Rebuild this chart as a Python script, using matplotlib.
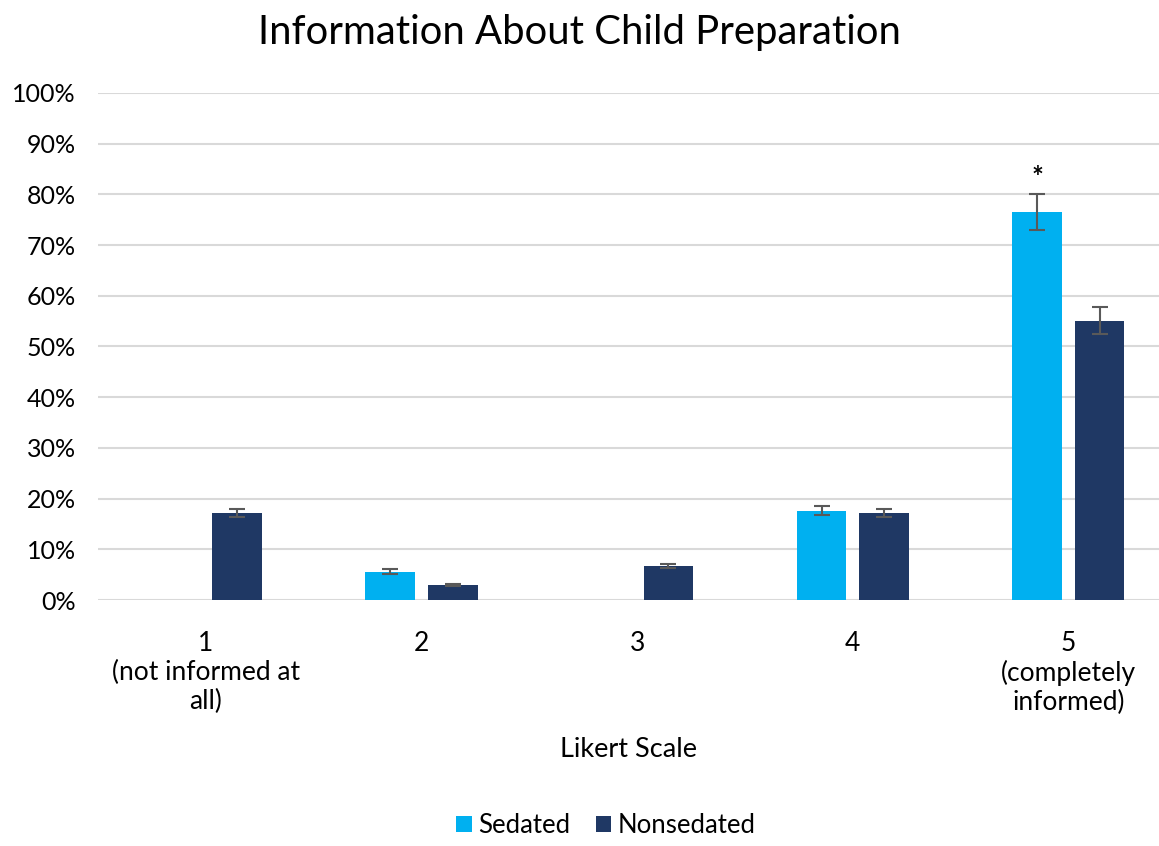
import numpy as np
import matplotlib
matplotlib.use('agg')
from matplotlib import pyplot as plt
from matplotlib.ticker import PercentFormatter

plt.rcParams['font.family'] = ['Lato', 'DejaVu Sans']

categories = ['1\n(not informed at\nall)', '2', '3', '4', '5\n(completely\ninformed)']
sedated = [0.0, 5.6, 0.0, 17.6, 76.5]
sedated_err = [0.0, 0.5, 0.0, 0.9, 3.6]
nonsedated = [17.2, 3.0, 6.7, 17.1, 55.1]
nonsedated_err = [0.8, 0.2, 0.4, 0.8, 2.7]

x = np.arange(len(categories))
w = 0.23
off = 0.145

fig = plt.figure(figsize=(11.59, 8.46), dpi=100)
ax = fig.add_axes([98 / 1159, 1 - 600 / 846, (1159 - 98) / 1159, 507 / 846])

ekw = dict(fmt='none', ecolor='#595959', elinewidth=1.5, capsize=5.5, capthick=1.5, zorder=4)
sed_bars = ax.bar(x - off, sedated, w, color='#00B0F0', label='Sedated', zorder=3)
non_bars = ax.bar(x + off, nonsedated, w, color='#1F3864', label='Nonsedated', zorder=3)

# no error bars where the bar is empty
sv = np.array(sedated)
se = np.array(sedated_err)
m = sv > 0
ax.errorbar((x - off)[m], sv[m], yerr=se[m], **ekw)
ax.errorbar(x + off, nonsedated, yerr=nonsedated_err, **ekw)

# significance marker on the sedated bar at "5"
ax.annotate('*', (x[4] - off, sedated[4] + sedated_err[4]), xytext=(0, 2),
            textcoords='offset points', ha='center', va='bottom', fontsize=20,
            fontweight='bold')

ax.set_xlim(-0.5, 4.42)
ax.set_ylim(0, 100)
ax.set_yticks(np.arange(0, 101, 10))
ax.yaxis.set_major_formatter(PercentFormatter(decimals=0))
ax.set_xticks(x)
ax.set_xticklabels(categories, fontsize=19, linespacing=1.2)
ax.tick_params(axis='y', labelsize=18, length=0, pad=16)
ax.tick_params(axis='x', length=0, pad=22)
ax.grid(axis='y', color='#d9d9d9', linewidth=1.5, zorder=0)
for s in ax.spines.values():
    s.set_visible(False)

ax.set_xlabel('Likert Scale', fontsize=19.5, labelpad=16)
fig.suptitle('Information About Child Preparation', fontsize=28.8, y=0.983)

fig.legend(handles=[sed_bars, non_bars], loc='lower center', ncol=2, frameon=False,
           fontsize=18.5, bbox_to_anchor=(0.523, -0.018), handlelength=0.6,
           handleheight=0.6, handletextpad=0.25, columnspacing=1.0)

fig.savefig('out.png', dpi=100)
